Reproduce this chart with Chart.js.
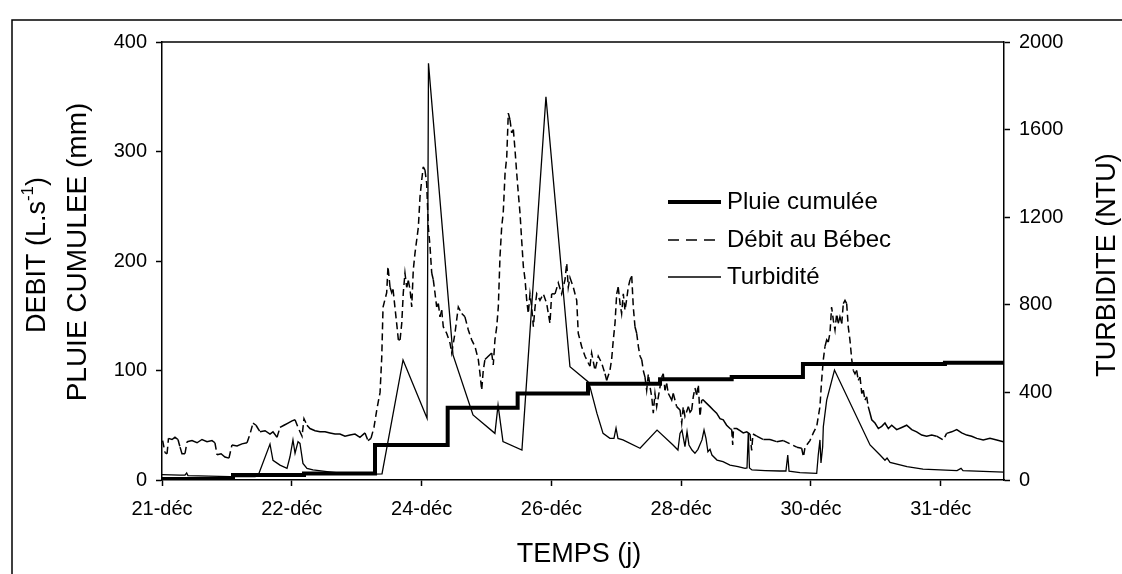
<!DOCTYPE html>
<html>
<head>
<meta charset="utf-8">
<script src="https://cdn.jsdelivr.net/npm/chart.js@4/dist/chart.umd.min.js"></script>
<style>
  html, body { margin: 0; padding: 0; background: #fff; }
  #wrap { width: 1122px; height: 574px; }
</style>
</head>
<body>
<div id="wrap"><canvas id="chart" width="1122" height="574"></canvas></div>
<script>
// x axis: one unit per labelled tick (the original axis labels are not evenly spaced days)
const xLabels = ['21-déc', '22-déc', '24-déc', '26-déc', '28-déc', '30-déc', '31-déc'];
const xMax = 6.487;

// Pluie cumulée (mm), step line
const pluieT  = [0, 0.547, 1.094, 1.641, 2.201, 2.740, 3.282, 3.837, 4.389, 4.938, 6.032, 6.487];
const pluieMm = [1, 4.5, 6, 32, 66, 79, 88, 92, 94, 106, 107, 107];

// Débit au Bébec (L/s)
const debitT = [
  0.005, 0.023, 0.039, 0.050, 0.077, 0.100, 0.123, 0.139, 0.154, 0.177, 0.193, 0.231, 0.270, 0.308, 0.347, 0.385,
  0.408, 0.424, 0.455, 0.485, 0.516, 0.539, 0.578, 0.616, 0.655, 0.678, 0.701, 0.724, 0.755, 0.794, 0.832, 0.855,
  0.886, 0.909, 0.940, 0.971, 1.002, 1.025, 1.048, 1.079, 1.094, 1.117, 1.140, 1.179, 1.217, 1.256, 1.294, 1.333,
  1.371, 1.410, 1.448, 1.487, 1.525, 1.564, 1.587, 1.610, 1.633, 1.656, 1.680, 1.693, 1.703, 1.731, 1.741, 1.757,
  1.770, 1.780, 1.808, 1.821, 1.834, 1.847, 1.859, 1.872, 1.885, 1.898, 1.911, 1.924, 1.936, 1.949, 1.975, 1.988,
  2.001, 2.013, 2.026, 2.039, 2.052, 2.065, 2.078, 2.090, 2.103, 2.116, 2.129, 2.142, 2.155, 2.167, 2.193, 2.219,
  2.232, 2.257, 2.283, 2.309, 2.334, 2.360, 2.386, 2.411, 2.437, 2.450, 2.463, 2.475, 2.488, 2.514, 2.540, 2.552,
  2.565, 2.579, 2.591, 2.604, 2.617, 2.629, 2.643, 2.656, 2.668, 2.681, 2.694, 2.707, 2.720, 2.733, 2.745, 2.758,
  2.771, 2.784, 2.797, 2.810, 2.822, 2.835, 2.848, 2.861, 2.874, 2.887, 2.912, 2.938, 2.964, 2.989, 3.002, 3.028,
  3.053, 3.079, 3.105, 3.118, 3.130, 3.143, 3.169, 3.195, 3.207, 3.233, 3.259, 3.284, 3.297, 3.310, 3.336, 3.361,
  3.387, 3.413, 3.426, 3.451, 3.464, 3.477, 3.490, 3.503, 3.515, 3.529, 3.541, 3.554, 3.567, 3.580, 3.592, 3.606,
  3.619, 3.631, 3.644, 3.657, 3.670, 3.683, 3.696, 3.708, 3.721, 3.734, 3.747, 3.760, 3.773, 3.785, 3.798, 3.811,
  3.824, 3.837, 3.850, 3.862, 3.875, 3.888, 3.901, 3.914, 3.927, 3.939, 3.965, 3.991, 4.004, 4.016, 4.029, 4.055,
  4.068, 4.081, 4.093, 4.106, 4.119, 4.132, 4.145, 4.158, 4.170, 4.196, 4.222, 4.247, 4.273, 4.299, 4.324, 4.350,
  4.376, 4.389, 4.397, 4.403, 4.428, 4.453, 4.478, 4.505, 4.530, 4.543, 4.553, 4.582, 4.633, 4.684, 4.736, 4.787,
  4.838, 4.890, 4.928, 4.942, 4.954, 4.992, 5.018, 5.044, 5.069, 5.082, 5.095, 5.108, 5.121, 5.133, 5.146, 5.159,
  5.172, 5.185, 5.198, 5.210, 5.223, 5.237, 5.249, 5.262, 5.275, 5.287, 5.300, 5.314, 5.326, 5.339, 5.352, 5.364,
  5.378, 5.391, 5.403, 5.416, 5.429, 5.441, 5.455, 5.468, 5.493, 5.519, 5.545, 5.570, 5.596, 5.622, 5.660, 5.699,
  5.737, 5.776, 5.814, 5.853, 5.891, 5.930, 5.968, 6.019, 6.045, 6.084, 6.123, 6.161, 6.200, 6.238, 6.277, 6.327,
  6.379, 6.431, 6.482
];
const debitLs = [
  36, 25, 24, 38, 37, 39, 37, 30, 24, 24, 35, 36, 34, 37, 35, 36,
  34, 23, 24, 21, 20, 32, 31, 33, 34, 42, 52, 50, 44, 45, 42, 44,
  39, 48, 50, 52, 54, 55, 48, 40, 56, 50, 47, 45, 44, 44, 43, 42,
  42, 40, 41, 42, 39, 43, 36, 38, 48, 65, 80, 112, 158, 171, 195, 176,
  171, 174, 143, 128, 128, 143, 171, 189, 176, 182, 174, 158, 192, 207, 231, 259,
  274, 286, 283, 271, 231, 213, 189, 183, 171, 158, 161, 149, 155, 140, 134, 125,
  116, 134, 158, 152, 149, 137, 128, 122, 110, 97, 82, 100, 110, 113, 116, 105,
  128, 140, 158, 204, 231, 244, 280, 295, 335, 329, 317, 320, 301, 280, 262, 244,
  219, 195, 183, 164, 152, 170, 158, 140, 158, 170, 164, 170, 161, 143, 170, 170,
  180, 170, 183, 198, 176, 185, 176, 164, 134, 122, 113, 107, 104, 116, 100, 113,
  107, 97, 91, 100, 110, 128, 143, 170, 176, 161, 152, 170, 155, 165, 176, 183,
  186, 158, 140, 134, 122, 113, 110, 100, 94, 82, 97, 85, 76, 61, 79, 67,
  76, 85, 94, 97, 82, 88, 79, 76, 73, 79, 67, 64, 52, 67, 58, 67,
  62, 64, 76, 84, 78, 87, 58, 73, 73, 70, 67, 64, 61, 56, 55, 50,
  47, 46, 32, 47, 47, 45, 43, 44, 42, 27, 42, 40, 37, 37, 35, 36,
  33, 30, 29, 21, 30, 36, 43, 49, 67, 91, 110, 122, 128, 126, 134, 158,
  146, 137, 152, 143, 149, 143, 161, 164, 161, 140, 128, 110, 100, 97, 100, 91,
  94, 79, 82, 73, 76, 67, 61, 55, 52, 47, 49, 52, 47, 50, 46, 48,
  50, 46, 44, 41, 40, 41, 40, 36.5, 42.6, 44, 46, 43, 41, 40, 38, 36.5,
  38, 36.5, 35
];

// Turbidité (NTU), right axis
const turbT = [
  0, 0.139, 0.177, 0.190, 0.200, 0.524, 0.717, 0.740, 0.832, 0.855, 0.909, 0.963, 0.986, 1.009, 1.025, 1.048,
  1.063, 1.086, 1.117, 1.163, 1.271, 1.394, 1.626, 1.695, 1.857, 2.042, 2.053, 2.242, 2.396, 2.565, 2.589, 2.627,
  2.773, 2.958, 3.143, 3.282, 3.297, 3.351, 3.398, 3.451, 3.482, 3.498, 3.513, 3.551, 3.683, 3.814, 3.937, 3.975,
  3.991, 4.006, 4.022, 4.029, 4.045, 4.060, 4.083, 4.106, 4.129, 4.160, 4.176, 4.191, 4.206, 4.222, 4.237, 4.276,
  4.322, 4.376, 4.438, 4.492, 4.507, 4.517, 4.526, 4.545, 4.646, 4.761, 4.807, 4.821, 4.831, 4.915, 5.044, 5.056,
  5.069, 5.077, 5.090, 5.095, 5.121, 5.181, 5.455, 5.532, 5.570, 5.586, 5.609, 5.740, 5.863, 6.125, 6.156, 6.171,
  6.379, 6.487
];
const turbNtu = [
  25, 22, 22, 32, 20, 15, 15, 20, 164, 90, 68, 53, 106, 183, 122, 175,
  167, 76, 53, 46, 38, 30, 27, 28, 548, 282, 1903, 571, 297, 213, 342, 175,
  137, 1750, 517, 449, 426, 304, 213, 190, 190, 237, 190, 183, 145, 228, 160, 137,
  213, 228, 175, 152, 221, 160, 137, 122, 140, 183, 228, 190, 129, 140, 114, 91,
  84, 68, 61, 53, 55, 213, 55, 46, 43, 41, 41, 114, 40, 34, 30, 114,
  183, 78, 152, 243, 365, 502, 160, 114, 90, 100, 80, 61, 50, 43, 53, 43,
  38, 36
];

const FONT = '"Liberation Sans", Arial, sans-serif';
const pts = (xs, ys) => xs.map((x, i) => ({ x: x, y: ys[i] }));

const decor = {
  id: 'decor',
  afterDraw(chart) {
    const { ctx, chartArea: a } = chart;
    ctx.save();
    ctx.strokeStyle = '#000';
    ctx.lineWidth = 1.5;
    ctx.beginPath();
    ctx.moveTo(a.left, a.top);
    ctx.lineTo(a.right, a.top);
    ctx.stroke();
    // figure frame
    ctx.beginPath();
    ctx.moveTo(12, 574);
    ctx.lineTo(12, 20);
    ctx.lineTo(1122, 20);
    ctx.stroke();

    ctx.fillStyle = '#000';
    ctx.textBaseline = 'middle';
    ctx.font = '27px ' + FONT;
    ctx.textAlign = 'center';
    ctx.fillText('TEMPS (j)', 579, 555);

    ctx.save();
    ctx.translate(78, 252);
    ctx.rotate(-Math.PI / 2);
    ctx.font = '28px ' + FONT;
    ctx.fillText('PLUIE CUMULEE (mm)', 0, 0);
    ctx.restore();

    // DEBIT (L.s-1) with superscript
    ctx.save();
    ctx.translate(38, 255);
    ctx.rotate(-Math.PI / 2);
    const p1 = 'DEBIT (L.s', sup = '-1', p3 = ')';
    ctx.font = '27px ' + FONT;
    const w1 = ctx.measureText(p1).width, w3 = ctx.measureText(p3).width;
    ctx.font = '17px ' + FONT;
    const ws = ctx.measureText(sup).width;
    let x0 = -(w1 + ws + w3) / 2;
    ctx.textAlign = 'left';
    ctx.font = '27px ' + FONT;
    ctx.fillText(p1, x0, 0);
    ctx.font = '17px ' + FONT;
    ctx.fillText(sup, x0 + w1, -10);
    ctx.font = '27px ' + FONT;
    ctx.fillText(p3, x0 + w1 + ws, 0);
    ctx.restore();

    ctx.save();
    ctx.translate(1108, 265);
    ctx.rotate(-Math.PI / 2);
    ctx.textAlign = 'center';
    ctx.font = '27px ' + FONT;
    ctx.fillText('TURBIDITE (NTU)', 0, 0);
    ctx.restore();

    // legend
    const rows = [202, 240, 277];
    chart.data.datasets.forEach((ds, i) => {
      const y = rows[i];
      ctx.beginPath();
      ctx.lineWidth = ds.borderWidth;
      ctx.setLineDash(ds.legendDash || []);
      ctx.moveTo(668, y);
      ctx.lineTo(721, y);
      ctx.stroke();
      ctx.setLineDash([]);
      ctx.font = '24px ' + FONT;
      ctx.textAlign = 'left';
      ctx.fillText(ds.label, 727, y);
    });
    ctx.restore();
  }
};

new Chart(document.getElementById('chart'), {
  type: 'line',
  data: {
    datasets: [
      {
        label: 'Pluie cumulée',
        data: pts(pluieT, pluieMm),
        yAxisID: 'y',
        borderColor: '#000',
        borderWidth: 4,
        stepped: 'before',
        pointRadius: 0,
        fill: false
      },
      {
        label: 'Débit au Bébec',
        data: pts(debitT, debitLs),
        yAxisID: 'y',
        borderColor: '#000',
        borderWidth: 1.5,
        legendDash: [11, 7],
        pointRadius: 0,
        tension: 0,
        fill: false,
        segment: {
          borderDash: c => Math.hypot(c.p1.x - c.p0.x, c.p1.y - c.p0.y) > 7 ? [7, 4] : undefined
        }
      },
      {
        label: 'Turbidité',
        data: pts(turbT, turbNtu),
        yAxisID: 'y2',
        borderColor: '#000',
        borderWidth: 1.3,
        pointRadius: 0,
        tension: 0,
        fill: false
      }
    ]
  },
  options: {
    responsive: false,
    animation: false,
    devicePixelRatio: 1,
    layout: { padding: { top: 42, left: 0, right: 0, bottom: 0 } },
    plugins: { legend: { display: false }, tooltip: { enabled: false } },
    scales: {
      x: {
        type: 'linear',
        min: 0,
        max: xMax,
        afterFit: s => { s.height = 94; },
        grid: { drawOnChartArea: false, drawTicks: true, tickLength: 6, tickColor: '#000', tickWidth: 1.5 },
        border: { display: true, color: '#000', width: 1.5 },
        ticks: {
          stepSize: 1,
          includeBounds: false,
          autoSkip: false,
          maxRotation: 0,
          padding: 11,
          color: '#000',
          font: { family: FONT, size: 20 },
          callback: v => xLabels[v] ?? ''
        }
      },
      y: {
        position: 'left',
        min: 0,
        max: 400,
        afterFit: s => { s.width = 162; },
        grid: { drawOnChartArea: false, drawTicks: true, tickLength: 6, tickColor: '#000', tickWidth: 1.5 },
        border: { display: true, color: '#000', width: 1.5 },
        ticks: { stepSize: 100, padding: 9, color: '#000', font: { family: FONT, size: 20 }, callback: v => String(v) }
      },
      y2: {
        position: 'right',
        min: 0,
        max: 2000,
        afterFit: s => { s.width = 118; },
        grid: { drawOnChartArea: false, drawTicks: true, tickLength: 6, tickColor: '#000', tickWidth: 1.5 },
        border: { display: true, color: '#000', width: 1.5 },
        ticks: { stepSize: 400, padding: 9, color: '#000', font: { family: FONT, size: 20 }, callback: v => String(v) }
      }
    }
  },
  plugins: [decor]
});
</script>
</body>
</html>
